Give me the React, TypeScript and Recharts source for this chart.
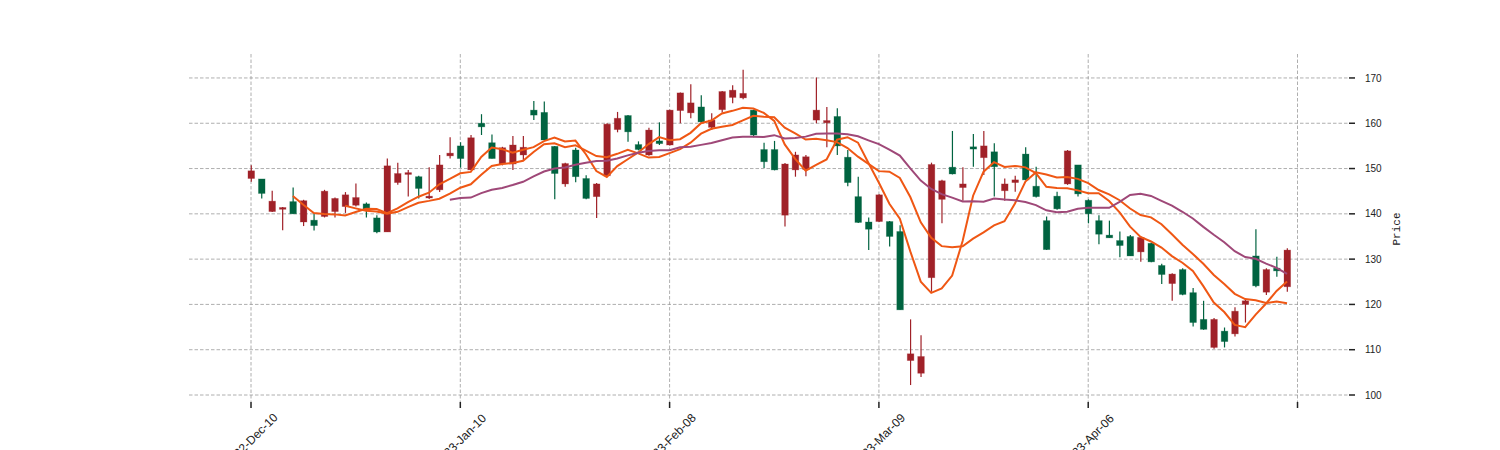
import { ComposedChart, Bar, Line, XAxis, YAxis, CartesianGrid } from "recharts";

const opens = [
  149.5, 144.5, 142.8, 141.4, 140.0, 142.9, 137.4, 145.0, 143.4, 144.2,
  143.6, 140.8, 136.0, 150.6, 148.9, 149.1, 145.6, 143.9, 150.8, 153.4,
  152.2, 156.8, 159.2, 152.2, 154.6, 155.2, 154.7, 161.8, 156.3, 148.9,
  151.1, 148.2, 143.4, 146.6, 159.8, 161.1, 158.1, 154.2, 158.5, 155.5,
  162.9, 166.7, 164.5, 160.3, 160.7, 167.0, 167.3, 166.6, 157.4, 151.5,
  149.7, 151.0, 153.0, 152.6, 162.9, 160.6, 155.0, 146.9, 138.1, 136.6,
  144.2, 135.0, 118.8, 109.1, 108.5, 150.9, 147.3, 148.8, 146.6, 154.3,
  155.0, 150.4, 146.6, 147.5, 147.5, 143.8, 132.1, 141.1, 153.9, 144.4,
  140.0, 135.5, 134.7, 133.0, 130.7, 134.8, 129.4, 126.6, 126.7, 122.2,
  116.0, 114.5, 116.7, 111.8, 118.5, 120.8, 124.1, 127.7, 127.4, 132.0,
];
const highs = [
  150.7, 147.7, 145.1, 141.5, 145.8, 143.1, 140.1, 145.3, 143.6, 144.8,
  146.7, 142.5, 139.7, 152.2, 151.3, 149.7, 148.4, 150.3, 153.0, 156.9,
  155.8, 157.4, 162.0, 157.5, 154.8, 157.2, 157.2, 164.9, 164.8, 155.0,
  151.3, 154.6, 148.5, 146.8, 160.0, 162.5, 161.8, 156.0, 159.0, 160.2,
  163.0, 166.8, 168.6, 166.2, 162.2, 167.1, 168.4, 171.8, 163.0, 155.7,
  156.1, 151.2, 153.7, 153.0, 170.1, 163.6, 163.3, 154.1, 148.2, 139.2,
  144.3, 138.4, 137.5, 116.7, 113.2, 151.3, 147.5, 158.3, 150.3, 157.6,
  158.3, 155.6, 147.8, 148.4, 154.7, 150.4, 139.4, 144.9, 154.1, 150.8,
  143.2, 139.7, 138.5, 136.1, 135.3, 135.1, 133.6, 129.0, 126.9, 128.0,
  123.6, 120.8, 117.0, 114.9, 119.4, 121.3, 136.6, 128.0, 130.5, 132.4,
];
const lows = [
  147.1, 143.4, 140.4, 136.4, 140.0, 137.3, 136.3, 139.2, 139.2, 140.2,
  141.6, 139.2, 135.7, 136.0, 146.4, 143.8, 143.4, 143.3, 144.8, 152.2,
  150.2, 149.7, 157.4, 152.2, 150.7, 149.7, 151.9, 160.7, 156.3, 143.2,
  146.0, 147.0, 143.2, 139.1, 148.3, 158.0, 155.9, 154.0, 152.8, 155.2,
  155.1, 160.0, 161.1, 160.0, 158.5, 162.4, 164.4, 165.3, 156.9, 150.1,
  149.6, 137.2, 148.2, 148.3, 160.0, 154.7, 153.0, 146.1, 138.0, 132.0,
  138.2, 132.8, 118.8, 102.2, 104.0, 122.8, 137.9, 148.7, 142.9, 150.4,
  148.6, 143.8, 142.9, 144.9, 147.4, 143.6, 132.0, 140.9, 146.4, 143.8,
  137.9, 133.3, 134.7, 130.4, 130.7, 129.4, 129.3, 124.5, 120.8, 122.0,
  115.1, 114.4, 110.2, 110.5, 112.9, 116.0, 123.8, 122.1, 126.1, 122.8,
];
const closes = [
  147.8, 147.7, 140.5, 141.0, 142.7, 138.2, 138.6, 139.4, 140.5, 141.6,
  141.9, 142.2, 139.1, 136.0, 146.9, 148.7, 148.2, 143.5, 145.3, 152.8,
  155.0, 149.7, 160.0, 155.7, 151.0, 151.0, 153.0, 162.9, 162.4, 154.9,
  146.6, 154.1, 147.8, 143.8, 148.4, 158.6, 161.7, 155.3, 153.0, 156.1,
  155.2, 162.8, 162.3, 163.6, 159.1, 163.0, 165.7, 165.6, 162.9, 154.2,
  154.2, 139.7, 149.7, 149.8, 160.7, 160.1, 161.5, 152.5, 143.8, 138.2,
  138.3, 138.3, 136.1, 107.6, 104.8, 125.9, 143.2, 150.3, 145.8, 154.8,
  152.4, 153.7, 145.1, 146.9, 153.2, 146.1, 138.5, 143.9, 146.6, 150.8,
  143.0, 138.5, 135.3, 134.1, 135.0, 131.6, 133.5, 128.6, 124.6, 127.7,
  122.6, 116.7, 110.5, 114.1, 113.5, 120.0, 130.7, 122.7, 128.0, 123.9,
];

const tickIndexes = [0, 20, 40, 60, 80, 100];
const tickLabels = ["2022-Dec-10", "2023-Jan-10", "2023-Feb-08", "2023-Mar-09", "2023-Apr-06", ""];
const priceTicks = [100, 110, 120, 130, 140, 150, 160, 170];

const X_DOMAIN = [-5.925, 104.92];
const Y_DOMAIN = [98.455, 175.29];

const UP = "#006340";
const DOWN = "#a02128";
const MA_ORANGE = "#ef5714";
const MA_PURPLE = "#9f4878";

// rolling mean of the closes, null until the window is full
function movingAverage(values: number[], n: number) {
  return values.map((_, i) => {
    if (i < n - 1) return null;
    let sum = 0;
    for (let k = i - n + 1; k <= i; k++) sum += values[k];
    return sum / n;
  });
}

const ma5 = movingAverage(closes, 5);
const ma10 = movingAverage(closes, 10);
const ma20 = movingAverage(closes, 20);

const data = closes.map((c, i) => ({
  i,
  open: opens[i],
  high: highs[i],
  low: lows[i],
  close: c,
  ma5: ma5[i],
  ma10: ma10[i],
  ma20: ma20[i],
}));

// grid only at the tick values (same linear mapping as the axes), no frame
const gridX = ({ offset }: any) =>
  tickIndexes.map((t) => offset.left + ((t - X_DOMAIN[0]) / (X_DOMAIN[1] - X_DOMAIN[0])) * offset.width);
const gridY = ({ offset }: any) =>
  priceTicks.map((t) => offset.top + (1 - (t - Y_DOMAIN[0]) / (Y_DOMAIN[1] - Y_DOMAIN[0])) * offset.height);

function Candle(props: any) {
  const { x, y, width, height, payload } = props;
  if (payload == null || height == null) return null;
  const top = Math.min(y, y + height);
  const h = Math.abs(height);
  const { open, close, high, low } = payload;
  const ppu = h / (high - low || 1);
  const color = close >= open ? UP : DOWN;
  const cx = x + width / 2;
  const bodyTop = top + (high - Math.max(open, close)) * ppu;
  const bodyH = Math.max(Math.abs(open - close) * ppu, 1);
  const bw = 6.6;
  return (
    <g>
      <line x1={cx} x2={cx} y1={top} y2={top + h} stroke={color} strokeWidth={1.2} />
      <rect
        x={cx - bw / 2}
        y={bodyTop}
        width={bw}
        height={bodyH}
        fill={color}
        stroke={color}
        strokeOpacity={0.35}
        strokeWidth={0.8}
      />
    </g>
  );
}

function DateTick(props: any) {
  const { x, y, payload } = props;
  const idx = tickIndexes.indexOf(payload.value);
  const label = idx >= 0 ? tickLabels[idx] : "";
  const cy = y + 30;
  return (
    <text
      x={x}
      y={cy}
      transform={`rotate(-45 ${x} ${cy})`}
      textAnchor="middle"
      dominantBaseline="central"
      fontSize={12}
      fontFamily="'Liberation Sans', Arial, sans-serif"
      fill="#222"
    >
      {label}
    </text>
  );
}

function PriceLabel() {
  return (
    <text
      x={1400}
      y={229}
      transform="rotate(-90 1400 229)"
      textAnchor="middle"
      fontSize={11}
      fontFamily="'Liberation Mono', monospace"
      fill="#222"
    >
      Price
    </text>
  );
}

export default function App() {
  return (
    <div style={{ position: "absolute", left: 0, top: 0, width: 1500, height: 450, background: "#fff" }}>
      <ComposedChart
        width={1500}
        height={450}
        data={data}
        margin={{ top: 54, right: 91, bottom: 18, left: 189 }}
      >
        <CartesianGrid
          stroke="#9a9a9a"
          strokeDasharray="3.5 2"
          strokeWidth={0.8}
          verticalCoordinatesGenerator={gridX}
          horizontalCoordinatesGenerator={gridY}
        />
        <XAxis
          dataKey="i"
          type="number"
          domain={X_DOMAIN}
          ticks={tickIndexes}
          interval={0}
          allowDataOverflow
          axisLine={false}
          tickLine={{ stroke: "#222", strokeWidth: 1.5 }}
          tickSize={6}
          tickMargin={2}
          height={30}
          tick={<DateTick />}
        />
        <YAxis
          orientation="right"
          type="number"
          domain={Y_DOMAIN}
          ticks={priceTicks}
          interval={0}
          allowDataOverflow
          axisLine={false}
          tickLine={{ stroke: "#222", strokeWidth: 1.5 }}
          tickSize={6}
          tickMargin={10}
          width={60}
          tick={{ fontSize: 10, fill: "#222", fontFamily: "'Liberation Sans', Arial, sans-serif" }}
          label={{ content: <PriceLabel /> }}
        />
        <Bar
          dataKey={(d: any) => [d.low, d.high]}
          barSize={7}
          shape={<Candle />}
          isAnimationActive={false}
        />
        <Line type="linear" dataKey="ma5" stroke={MA_ORANGE} strokeWidth={2} dot={false} isAnimationActive={false} />
        <Line type="linear" dataKey="ma10" stroke={MA_ORANGE} strokeWidth={2} dot={false} isAnimationActive={false} />
        <Line type="linear" dataKey="ma20" stroke={MA_PURPLE} strokeWidth={2} dot={false} isAnimationActive={false} />
      </ComposedChart>
    </div>
  );
}
